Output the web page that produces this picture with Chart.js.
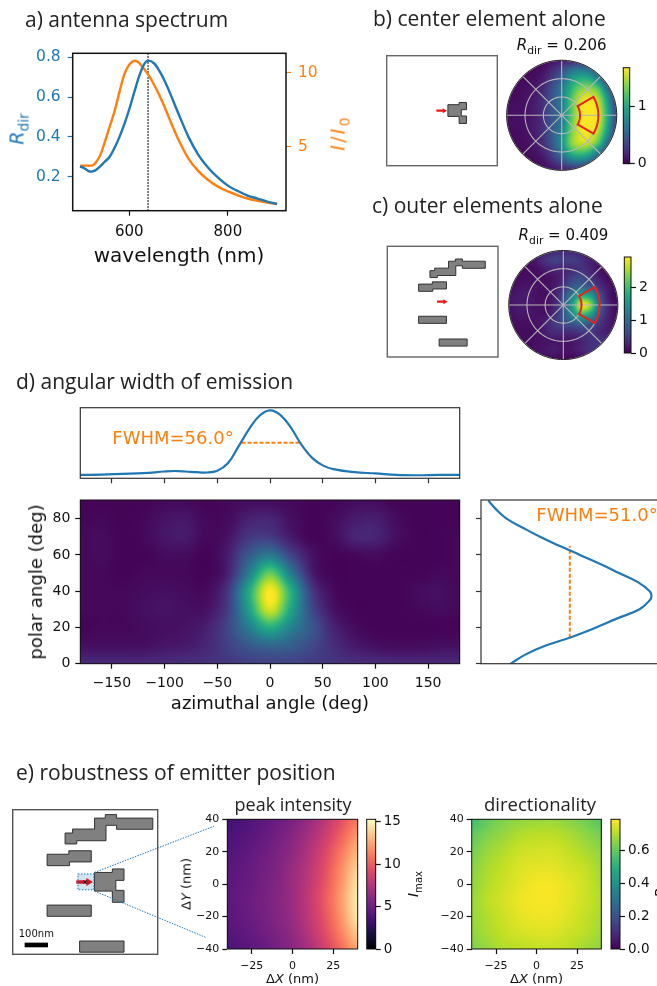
<!DOCTYPE html>
<html>
<head>
<meta charset="utf-8">
<script src="https://cdn.jsdelivr.net/npm/chart.js@4/dist/chart.umd.min.js"></script>
<style>
html, body { margin: 0; padding: 0; background: #fff; width: 657px; height: 986px; overflow: hidden; }
#page { position: relative; width: 657px; height: 986px; overflow: hidden; }
canvas { position: absolute; left: 0; top: 0; pointer-events: none; }
.t { position: absolute; white-space: nowrap; font-family: "DejaVu Sans"; color: #111; line-height: 1; }
.t sub { font-size: 0.72em; line-height: 0; }
.h { font-family: "Open Sans"; color: #222; }
</style>
</head>
<body>
<div id="page"></div>
<script>
// a) spectrum
var wlBlue = [500, 510, 520, 530, 540, 550, 560, 570, 580, 590, 600, 610, 620, 630, 638, 650, 660, 670, 680, 690, 700, 720, 740, 760, 780, 800, 820, 840, 860, 880, 900];
var rdir = [0.252, 0.24, 0.226, 0.23, 0.25, 0.275, 0.30, 0.345, 0.40, 0.465, 0.54, 0.625, 0.705, 0.765, 0.783, 0.77, 0.735, 0.69, 0.635, 0.575, 0.515, 0.40, 0.31, 0.245, 0.195, 0.155, 0.128, 0.105, 0.09, 0.075, 0.063];
var wlOrange = [500, 510, 520, 525, 530, 540, 550, 560, 570, 580, 590, 600, 611, 620, 630, 640, 650, 660, 670, 680, 690, 700, 720, 740, 760, 780, 800, 820, 840, 860, 880, 900];
var intensity = [3.72, 3.72, 3.72, 3.74, 3.85, 4.35, 5.3, 6.35, 7.4, 8.7, 9.9, 10.55, 10.81, 10.65, 10.25, 9.78, 9.2, 8.55, 7.8, 7.0, 6.2, 5.45, 4.2, 3.35, 2.75, 2.3, 1.98, 1.72, 1.5, 1.35, 1.23, 1.13];
var peakWl = 638;
var wlTicks = [600, 800];
var rdirTicks = [0.2, 0.4, 0.6, 0.8];
var intensityTicks = [5, 10];

// d) angular width
var phiCut = [-180, -160, -140, -120, -100, -90, -80, -70, -60, -50, -40, -30, -20, -10, 0, 10, 20, 30, 40, 50, 60, 80, 100, 120, 140, 160, 180];
var phiCutVal = [0.05, 0.055, 0.065, 0.075, 0.1, 0.107, 0.1, 0.09, 0.085, 0.11, 0.22, 0.465, 0.72, 0.92, 1, 0.93, 0.74, 0.49, 0.30, 0.19, 0.135, 0.09, 0.072, 0.05, 0.045, 0.05, 0.05];
var phiFwhm = [-27, 28.5];
var phiFwhmLevel = 0.523;
var thetaCut = [90, 85, 80, 75, 70, 65, 60, 55, 50, 45, 40, 37.4, 35, 30, 25, 20, 15, 10, 5, 0];
var thetaCutVal = [0.043, 0.09, 0.15, 0.245, 0.346, 0.46, 0.58, 0.70, 0.81, 0.92, 0.99, 1, 0.99, 0.93, 0.80, 0.675, 0.54, 0.38, 0.26, 0.174];
var thetaFwhm = [14.3, 64.9];
var thetaFwhmLevel = 0.521;
var phiTicks = [-150, -100, -50, 0, 50, 100, 150];
var thetaTicks = [0, 20, 40, 60, 80];
var mapPhi = [-180, -160, -140, -120, -100, -80, -60, -40, -20, 0, 20, 40, 60, 80, 100, 120, 140, 160, 180];
var mapTheta = [90, 80, 70, 60, 50, 40, 30, 20, 10, 0];
var angularMap = [
  [.01, .01, .01, .01, .02, .02, .01, .02, .03, .03, .02, .01, .01, .03, .03, .01, .01, .01, .01],
  [.01, .02, .01, .02, .05, .06, .02, .03, .09, .10, .04, .01, .03, .07, .08, .03, .01, .01, .01],
  [.02, .03, .01, .02, .06, .07, .02, .05, .16, .17, .07, .01, .03, .10, .10, .04, .01, .01, .02],
  [.02, .03, .01, .01, .03, .03, .01, .08, .28, .40, .20, .05, .01, .02, .03, .01, .01, .01, .02],
  [.02, .02, .01, .02, .02, .02, .01, .09, .42, .76, .40, .08, .01, .01, .01, .01, .01, .02, .02],
  [.02, .02, .02, .03, .04, .03, .03, .16, .60, 1.0, .62, .17, .03, .01, .01, .01, .03, .04, .02],
  [.02, .02, .02, .04, .05, .04, .05, .18, .56, .94, .58, .22, .05, .01, .01, .01, .02, .03, .02],
  [.01, .02, .02, .03, .04, .05, .09, .21, .42, .62, .44, .27, .10, .03, .01, .01, .01, .01, .01],
  [.04, .04, .04, .04, .06, .07, .11, .19, .28, .33, .30, .22, .13, .07, .04, .03, .03, .04, .04],
  [.11, .11, .11, .11, .12, .13, .14, .16, .18, .19, .19, .17, .15, .13, .12, .11, .11, .11, .11]
];

// b), c) polar maps, x and y in degrees of polar angle
var polarAxis = [-90, -75, -60, -45, -30, -15, 0, 15, 30, 45, 60, 75, 90];
var polarRev = [90, 75, 60, 45, 30, 15, 0, -15, -30, -45, -60, -75, -90];
var polarCenter = [
  [.02, .02, .02, .02, .03, .05, .08, .10, .12, .10, .08, .05, .02],
  [.02, .02, .02, .03, .05, .12, .22, .35, .40, .35, .25, .10, .03],
  [.02, .02, .03, .04, .08, .18, .32, .52, .62, .60, .42, .18, .05],
  [.02, .03, .04, .06, .12, .25, .40, .62, .78, .82, .70, .35, .10],
  [.03, .03, .05, .07, .14, .27, .42, .70, .90, .95, .85, .50, .15],
  [.04, .04, .05, .08, .15, .28, .42, .72, .95, 1.0, .92, .58, .18],
  [.04, .04, .05, .08, .15, .28, .40, .72, .95, 1.0, .95, .60, .20],
  [.04, .04, .05, .08, .15, .28, .42, .75, .97, 1.0, .93, .58, .18],
  [.03, .03, .05, .08, .15, .30, .48, .78, .95, .97, .85, .50, .15],
  [.02, .03, .04, .07, .14, .28, .50, .80, .92, .90, .72, .35, .10],
  [.02, .02, .03, .05, .10, .22, .42, .65, .72, .65, .42, .18, .05],
  [.02, .02, .02, .03, .06, .14, .25, .38, .42, .35, .22, .10, .03],
  [.02, .02, .02, .02, .03, .05, .08, .10, .12, .10, .08, .05, .02]
];
var polarOuter = [
  [.01, .01, .01, .02, .05, .09, .11, .09, .05, .02, .01, .01, .01],
  [.01, .01, .03, .07, .15, .19, .18, .18, .14, .08, .04, .01, .01],
  [.01, .02, .03, .04, .08, .11, .10, .12, .14, .10, .05, .02, .01],
  [.02, .03, .04, .04, .04, .06, .11, .19, .22, .15, .08, .03, .02],
  [.03, .05, .06, .05, .04, .07, .15, .28, .33, .28, .14, .06, .02],
  [.05, .07, .07, .05, .04, .08, .22, .45, .62, .56, .26, .07, .02],
  [.05, .07, .07, .05, .04, .10, .26, .55, .96, .82, .32, .10, .02],
  [.04, .06, .06, .05, .05, .12, .26, .48, .68, .56, .26, .09, .03],
  [.03, .04, .04, .05, .09, .17, .22, .28, .33, .28, .16, .08, .04],
  [.02, .03, .03, .04, .08, .12, .12, .13, .16, .16, .11, .08, .05],
  [.01, .02, .03, .04, .05, .06, .05, .06, .10, .14, .15, .12, .05],
  [.01, .01, .02, .04, .06, .08, .05, .06, .10, .13, .12, .06, .02],
  [.01, .01, .01, .01, .02, .02, .02, .02, .02, .02, .02, .01, .01]
];
var polarRings = [30, 60, 90];
var polarSpokes = [0, 45, 90, 135];
var sectorTheta = [30, 60];
var sectorPhi = [-30, 30];
var centerBarMax = 1.67, centerBarTicks = [0, 1];
var outerBarMax = 2.92, outerBarTicks = [0, 1, 2];

// antenna outlines in nm, emitter at the origin
var partCenter = [[40, 41], [116, 41], [116, 56], [166, 56], [166, 7], [131, 7], [131, -36], [166, -36], [166, -87], [116, -87], [116, -39], [40, -39]];
var partTop = [[-86, 210], [-54, 210], [-54, 227], [40, 227], [40, 274], [86, 274], [86, 289], [134, 289], [134, 274], [289, 274], [289, 226], [134, 226], [134, 243], [89, 243], [89, 177], [-36, 177], [-36, 163], [-86, 163]];
var partUpper = [[-163, 119], [-70, 119], [-70, 134], [26, 134], [26, 86], [-67, 86], [-67, 70], [-163, 70]];
var partLower = [[-163, -99], [26, -99], [26, -147], [-163, -147]];
var partBottom = [[-24, -253], [166, -253], [166, -301], [-24, -301]];
var emitterArrow = [[-38, 8], [5, 8], [5, 17], [33, 0], [5, -17], [5, -8], [-38, -8]];
var scanBox = [[-31, 34], [37, 34], [37, -33], [-31, -33]];
var scaleBar = [[-259, -260], [-159, -260], [-159, -280], [-259, -280]];
var zoomLines = [[[40, 41], [550, 239]], [[40, -39], [514, -237]]];

// e) position scan
var scanAxis = [-40, -30, -20, -10, 0, 10, 20, 30, 40];
var scanRev = [40, 30, 20, 10, 0, -10, -20, -30, -40];
var peakMap = [
  [3.4, 3.7, 4.2, 4.8, 5.5, 6.5, 7.8, 9.5, 11.0],
  [3.7, 4.0, 4.5, 5.1, 5.9, 7.0, 8.4, 10.2, 12.0],
  [3.9, 4.3, 4.8, 5.4, 6.2, 7.4, 9.0, 11.0, 13.0],
  [4.1, 4.5, 5.0, 5.6, 6.5, 7.7, 9.4, 11.6, 13.8],
  [4.3, 4.6, 5.1, 5.7, 6.6, 7.9, 9.7, 12.0, 14.4],
  [4.3, 4.7, 5.2, 5.8, 6.6, 8.0, 9.9, 12.2, 14.7],
  [4.2, 4.6, 5.1, 5.7, 6.5, 7.9, 9.7, 12.0, 14.5],
  [4.0, 4.4, 4.9, 5.5, 6.3, 7.6, 9.3, 11.4, 13.6],
  [3.7, 4.1, 4.6, 5.2, 6.0, 7.1, 8.7, 10.6, 12.6]
];
var dirMap = [
  [.55, .60, .64, .66, .67, .67, .65, .62, .58],
  [.60, .64, .67, .70, .71, .71, .69, .66, .63],
  [.63, .67, .70, .73, .74, .74, .72, .69, .66],
  [.65, .69, .72, .75, .76, .76, .74, .72, .68],
  [.66, .70, .73, .76, .78, .78, .76, .73, .69],
  [.67, .71, .74, .77, .78, .78, .76, .73, .70],
  [.67, .70, .73, .76, .77, .77, .75, .72, .69],
  [.66, .69, .72, .74, .75, .75, .73, .71, .68],
  [.64, .67, .70, .71, .72, .72, .71, .68, .66]
];
var scanXTicks = [-25, 0, 25];
var scanYTicks = [-40, -20, 0, 20, 40];
var peakBarMax = 15.3, peakBarTicks = [0, 5, 10, 15];
var dirBarMax = 0.79, dirBarTicks = [0, 0.2, 0.4, 0.6];

var viridis = [[68, 1, 84], [72, 36, 117], [65, 68, 135], [53, 95, 141], [42, 120, 142], [33, 145, 140], [34, 168, 132], [68, 191, 112], [122, 209, 81], [189, 223, 38], [253, 231, 37]];
var magma = [[0, 0, 4], [20, 14, 54], [59, 15, 112], [100, 26, 128], [140, 41, 129], [183, 55, 121], [222, 73, 104], [247, 112, 92], [254, 159, 109], [254, 207, 146], [252, 253, 191]];

var BLUE = '#1f77b4', ORANGE = '#ff7f0e';
var W = 700, H = 986, SIDE = 50, BELOW = 30;
var page = document.getElementById('page');

function colorAt(map, v) {
  v = Math.max(0, Math.min(1, v)) * (map.length - 1);
  var i = Math.min(Math.floor(v), map.length - 2), f = v - i;
  return [0, 1, 2].map(function (k) { return map[i][k] + (map[i + 1][k] - map[i][k]) * f; });
}

function cubic(a, b, c, d, t) {
  return b + 0.5 * t * (c - a + t * (2 * a - 5 * b + 4 * c - d + t * (3 * (b - c) + d - a)));
}

function sample(grid, xs, ys, x, y) {
  var fx = (x - xs[0]) / (xs[1] - xs[0]), fy = (y - ys[0]) / (ys[1] - ys[0]);
  var ix = Math.floor(fx), iy = Math.floor(fy), row = [];
  for (var j = -1; j < 3; j++) {
    var r = grid[Math.max(0, Math.min(ys.length - 1, iy + j))];
    var c = function (k) { return r[Math.max(0, Math.min(xs.length - 1, ix + k))]; };
    row.push(cubic(c(-1), c(0), c(1), c(2), fx - ix));
  }
  return cubic(row[0], row[1], row[2], row[3], fy - iy);
}

// paints a grid (or a colorbar ramp) under the datasets, pixel by pixel through the scales
var heatPlugin = {
  id: 'heat',
  beforeDatasetsDraw: function (chart) {
    var o = chart.config.options.heatmap;
    if (!o) return;
    var a = chart.chartArea, sx = chart.scales.x, sy = chart.scales.y;
    var w = Math.ceil(a.right - a.left), h = Math.ceil(a.bottom - a.top);
    var off = document.createElement('canvas');
    off.width = w; off.height = h;
    var octx = off.getContext('2d'), img = octx.createImageData(w, h);
    for (var j = 0; j < h; j++) {
      for (var i = 0; i < w; i++) {
        var vy = sy.getValueForPixel(a.top + j + 0.5), v;
        if (o.grid) v = sample(o.grid, o.xs, o.ys, sx.getValueForPixel(a.left + i + 0.5), vy);
        else v = vy;
        var c = colorAt(o.map, v / o.max), p = (j * w + i) * 4;
        img.data[p] = c[0]; img.data[p + 1] = c[1]; img.data[p + 2] = c[2]; img.data[p + 3] = 255;
      }
    }
    octx.putImageData(img, 0, 0);
    var ctx = chart.ctx;
    ctx.save();
    if (o.round) {
      ctx.beginPath();
      ctx.arc((a.left + a.right) / 2, (a.top + a.bottom) / 2, (a.right - a.left) / 2, 0, Math.PI * 2);
      ctx.clip();
    }
    ctx.drawImage(off, a.left, a.top);
    ctx.restore();
  }
};

// polygons and polylines in data coordinates
var shapesPlugin = {
  id: 'shapes',
  afterDatasetsDraw: function (chart) {
    var ctx = chart.ctx, sx = chart.scales.x, sy = chart.scales.y;
    (chart.config.options.outlines || []).forEach(function (s) {
      ctx.save();
      ctx.beginPath();
      s.pts.forEach(function (p, i) {
        var x = sx.getPixelForValue(p[0]), y = sy.getPixelForValue(p[1]);
        if (i) ctx.lineTo(x, y); else ctx.moveTo(x, y);
      });
      if (s.closed) ctx.closePath();
      if (s.fill) { ctx.fillStyle = s.fill; ctx.fill(); }
      if (s.stroke) {
        ctx.strokeStyle = s.stroke;
        ctx.lineWidth = s.width || 1;
        ctx.setLineDash(s.dash || []);
        ctx.stroke();
      }
      ctx.restore();
    });
  }
};

var framePlugin = {
  id: 'frame',
  afterDraw: function (chart) {
    var o = chart.config.options.frame;
    if (!o) return;
    var a = chart.chartArea, ctx = chart.ctx;
    ctx.save();
    ctx.strokeStyle = o.color;
    ctx.lineWidth = o.width || 1;
    ctx.strokeRect(a.left, a.top, a.right - a.left, a.bottom - a.top);
    ctx.restore();
  }
};

function axis(min, max, ticks, size, color, position, o) {
  o = o || {};
  return {
    type: 'linear', display: true, position: position, min: min, max: max,
    afterBuildTicks: function (s) { s.ticks = ticks.map(function (v) { return { value: v }; }); },
    afterFit: function (s) {
      if (position === 'left' || position === 'right') s.width = SIDE; else s.height = BELOW;
    },
    border: { display: false },
    grid: { display: true, drawOnChartArea: false, drawTicks: true, tickLength: 5, tickWidth: 1.2, color: o.blank ? '#333' : color },
    ticks: {
      display: !o.blank, autoSkip: false, maxRotation: 0, minRotation: 0, padding: o.pad || 3, color: color,
      font: { family: 'DejaVu Sans', size: size },
      callback: function (v) { return v.toFixed(o.decimals || 0).replace('-', '\u2212'); }
    }
  };
}

function hidden(min, max) {
  return { type: 'linear', display: false, min: min, max: max };
}

function panel(box, scales, datasets, extra) {
  var c = document.createElement('canvas');
  c.width = W; c.height = H;
  c.style.width = W + 'px'; c.style.height = H + 'px';
  page.appendChild(c);
  var sideOf = function (pos) {
    return Object.keys(scales).some(function (k) { return scales[k].display && scales[k].position === pos; });
  };
  var chart = new Chart(c, {
    type: 'scatter',
    data: { datasets: datasets },
    plugins: [heatPlugin, shapesPlugin, framePlugin],
    options: Object.assign({
      responsive: false, animation: false, devicePixelRatio: 1,
      layout: {
        autoPadding: false,
        padding: {
          left: box[0] - (sideOf('left') ? SIDE : 0),
          top: box[1],
          right: W - box[2] - (sideOf('right') ? SIDE : 0),
          bottom: H - box[3] - (sideOf('bottom') ? BELOW : 0)
        }
      },
      plugins: { legend: { display: false }, tooltip: { enabled: false } },
      scales: scales
    }, extra)
  });
  return chart;
}

function curve(xs, ys, color, width, yAxisID) {
  return {
    data: xs.map(function (x, i) { return { x: x, y: ys[i] }; }),
    showLine: true, pointRadius: 0, borderColor: color, borderWidth: width,
    tension: 0.4, yAxisID: yAxisID || 'y'
  };
}

function dashed(xs, ys, color, width, dash, yAxisID) {
  var d = curve(xs, ys, color, width, yAxisID);
  d.borderDash = dash;
  d.tension = 0;
  return d;
}

function label(html, x, y, size, opts) {
  opts = opts || {};
  var d = document.createElement('div');
  d.className = 't' + (opts.head ? ' h' : '');
  d.innerHTML = html;
  d.style.left = x + 'px';
  d.style.top = y + 'px';
  d.style.fontSize = size + 'px';
  if (opts.color) d.style.color = opts.color;
  if (opts.spread) d.style.letterSpacing = opts.spread;
  d.style.transform = (opts.left ? 'translate(0,-50%)' : 'translate(-50%,-50%)') + (opts.rot ? ' rotate(' + opts.rot + 'deg)' : '');
  page.appendChild(d);
}

function arc(r, from, to) {
  var pts = [];
  for (var a = from; a <= to + 0.01; a += 3) {
    pts.push([r * Math.cos(a * Math.PI / 180), r * Math.sin(a * Math.PI / 180)]);
  }
  return pts;
}

function polarPanel(box, grid) {
  var shapes = polarRings.map(function (r) {
    return { pts: arc(r, 0, 360), stroke: '#b8b8b8', width: 1.1 };
  });
  polarSpokes.forEach(function (a) {
    var e = arc(90, a, a)[0];
    shapes.push({ pts: [[-e[0], -e[1]], e], stroke: '#b8b8b8', width: 1.1 });
  });
  var sector = arc(sectorTheta[1], sectorPhi[0], sectorPhi[1]).concat(arc(sectorTheta[0], sectorPhi[0], sectorPhi[1]).reverse());
  shapes.push({ pts: sector, closed: true, stroke: '#e8211d', width: 2 });
  shapes.push({ pts: arc(90, 0, 360), stroke: '#222', width: 1 });
  panel(box, { x: hidden(-90, 90), y: hidden(-90, 90) }, [],
    { heatmap: { grid: grid, xs: polarAxis, ys: polarRev, map: viridis, max: 1, round: true }, outlines: shapes });
}

function colorbar(box, map, max, ticks, size, decimals) {
  panel(box, { x: hidden(0, 1), y: axis(0, max, ticks, size, '#111', 'right', { decimals: decimals }) }, [],
    { heatmap: { map: map, max: max }, frame: { color: '#111', width: 1 } });
}

function antenna(box, range, parts, extra, frameColor) {
  var list = parts.map(function (p) {
    return { pts: p, closed: true, fill: '#808080', stroke: '#333', width: 1 };
  }).concat(extra);
  panel(box, { x: hidden(-range, range), y: hidden(-range, range) }, [],
    { outlines: list, frame: { color: frameColor, width: 1.4 } });
}

// a)
panel([72.7, 53.3, 286, 210.7], {
  x: axis(485, 918, wlTicks, 15, '#111', 'bottom', { pad: 7 }),
  y: axis(0.029, 0.82, rdirTicks, 15.5, BLUE, 'left', { pad: 7, decimals: 1 }),
  y2: axis(0.676, 11.31, intensityTicks, 15.5, ORANGE, 'right', { pad: 7 })
}, [
  curve(wlBlue, rdir, BLUE, 2.4),
  curve(wlOrange, intensity, ORANGE, 2.4, 'y2'),
  dashed([peakWl, peakWl], [0.029, 0.82], '#111', 1.4, [1.5, 1.5])
], { frame: { color: '#111', width: 1.5 } });

// b)
var redArrow = { pts: emitterArrow, closed: true, fill: '#f01414' };
antenna([386.7, 55.7, 497.3, 165.7], 375, [partCenter], [redArrow], '#666');
polarPanel([506.7, 60.3, 616.7, 170.3], polarCenter);
colorbar([623.3, 67.7, 629.7, 163.7], viridis, centerBarMax, centerBarTicks, 14);

// c)
antenna([387.3, 246.3, 498, 357], 375, [partTop, partUpper, partLower, partBottom], [redArrow], '#666');
polarPanel([508.8, 250.5, 617.8, 359.5], polarOuter);
colorbar([624.3, 257, 631, 353], viridis, outerBarMax, outerBarTicks, 14);

// d)
panel([80.3, 407.7, 459.7, 478.3], {
  x: axis(-180, 180, phiTicks, 14, '#111', 'bottom', { blank: true }),
  y: hidden(0, 1.038)
}, [
  curve(phiCut, phiCutVal, BLUE, 2.2),
  dashed(phiFwhm, [phiFwhmLevel, phiFwhmLevel], ORANGE, 2, [4, 2])
], { frame: { color: '#333', width: 1.2 } });

panel([80.3, 500, 459.7, 663.7], {
  x: axis(-180, 180, phiTicks, 14, '#111', 'bottom', { pad: 6 }),
  y: axis(0, 90.3, thetaTicks, 14, '#111', 'left', { pad: 5 })
}, [], { heatmap: { grid: angularMap, xs: mapPhi, ys: mapTheta, map: viridis, max: 1 }, frame: { color: '#111', width: 1 } });

panel([481, 500, 660, 663.7], {
  x: hidden(0, 1.05),
  y: axis(0, 90.3, thetaTicks, 14, '#111', 'left', { blank: true })
}, [
  curve(thetaCutVal, thetaCut, BLUE, 2.2),
  dashed([thetaFwhmLevel, thetaFwhmLevel], thetaFwhm, ORANGE, 2, [4, 2])
], { frame: { color: '#333', width: 1.2 } });

// e)
antenna([12.7, 809.7, 157.7, 954.3], 310, [partTop, partUpper, partCenter, partLower, partBottom], [
  { pts: scanBox, closed: true, fill: 'rgba(31,119,180,0.2)' },
  { pts: emitterArrow, closed: true, fill: '#d0142c' },
  { pts: scanBox, closed: true, stroke: BLUE, width: 1.1, dash: [1.5, 1.5] },
  { pts: [[-7, 7], [7, -7]], stroke: '#111', width: 1 },
  { pts: [[-7, -7], [7, 7]], stroke: '#111', width: 1 },
  { pts: scaleBar, closed: true, fill: '#000' },
  { pts: zoomLines[0], stroke: BLUE, width: 1, dash: [1.5, 1.2] },
  { pts: zoomLines[1], stroke: BLUE, width: 1, dash: [1.5, 1.2] }
], '#555');

panel([227.3, 819.3, 357.7, 949], {
  x: axis(-40, 40, scanXTicks, 11, '#111', 'bottom', { pad: 6 }),
  y: axis(-40, 40, scanYTicks, 11, '#111', 'left', { pad: 3 })
}, [], { heatmap: { grid: peakMap, xs: scanAxis, ys: scanRev, map: magma, max: peakBarMax }, frame: { color: '#111', width: 1 } });
colorbar([366.7, 819.3, 375.7, 949], magma, peakBarMax, peakBarTicks, 13.5);

panel([471.7, 819.3, 601.3, 949], {
  x: axis(-40, 40, scanXTicks, 11, '#111', 'bottom', { pad: 6 }),
  y: axis(-40, 40, scanYTicks, 11, '#111', 'left', { pad: 3 })
}, [], { heatmap: { grid: dirMap, xs: scanAxis, ys: scanRev, map: viridis, max: dirBarMax }, frame: { color: '#111', width: 1 } });
colorbar([611, 819.3, 620, 949], viridis, dirBarMax, dirBarTicks, 13.5, 1);

// text
label('a) antenna spectrum', 25, 19, 21, { head: true, left: true });
label('b) center element alone', 373, 18, 21, { head: true, left: true });
label('c) outer elements alone', 372, 205, 21, { head: true, left: true });
label('d) angular width of emission', 16, 381, 21, { head: true, left: true });
label('e) robustness of emitter position', 16, 772, 21, { head: true, left: true });
label('peak intensity', 293, 804, 18, { head: true });
label('directionality', 540, 804, 18.5, { head: true });

label('<i>R</i><sub>dir</sub>', 17, 129, 19, { color: BLUE, rot: -90 });
label('<i>I</i>/<i>I</i><sub>0</sub>', 338, 133, 19, { color: ORANGE, rot: -90, spread: '0.12em' });
label('wavelength (nm)', 179, 255, 20);
label('<i>R</i><sub>dir</sub> = 0.206', 561.7, 45, 15);
label('<i>R</i><sub>dir</sub> = 0.409', 563.5, 235, 15);
label('FWHM=56.0\u00b0', 173, 438, 18, { color: ORANGE });
label('FWHM=51.0\u00b0', 597, 515, 18, { color: ORANGE });
label('polar angle (deg)', 36, 582, 18, { rot: -90 });
label('azimuthal angle (deg)', 270, 703, 18);
label('100nm', 36.3, 934, 10);
label('\u0394<i>X</i> (nm)', 292.5, 977.5, 13);
label('\u0394<i>Y</i> (nm)', 186, 884, 13, { rot: -90 });
label('<i>I</i><sub>max</sub>', 413, 884, 14, { rot: -90 });
label('\u0394<i>X</i> (nm)', 536.5, 977.5, 13);
label('<i>R</i><sub>dir</sub>', 660, 886, 14, { rot: -90 });
</script>
</body>
</html>
